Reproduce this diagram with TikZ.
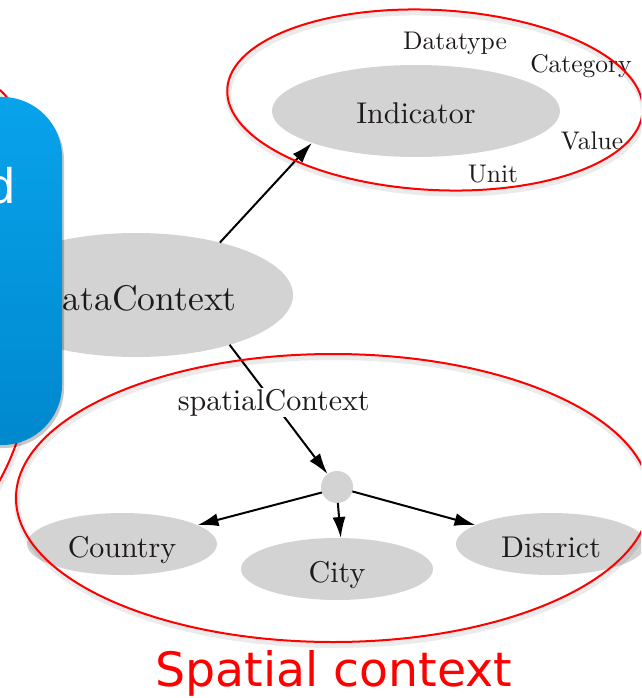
\documentclass[tikz,border=0pt]{standalone}
\usepackage{fontspec}
\newfontfamily\slidesans{DejaVu Sans}
\newfontfamily\boxsans{Liberation Sans}
% the 10pt design of Latin Modern, scaled up, for the graph labels
\newfontfamily\graphfont{lmroman10-regular.otf}
\usetikzlibrary{arrows.meta,shapes.geometric}
\definecolor{nodegray}{HTML}{D3D3D3}
\definecolor{ink}{HTML}{1F1A1A}
\definecolor{boxtop}{HTML}{08A3EB}
\definecolor{boxbottom}{HTML}{0088CE}
\definecolor{ctxred}{HTML}{FF0000}

\begin{document}
\begin{tikzpicture}[x=1pt,y=-1pt,
  concept/.style={ellipse, fill=nodegray, inner sep=0pt, outer sep=0pt, text=ink,
    font=\graphfont\fontsize{30}{36}\selectfont, text height=33.5pt, text depth=7.5pt},
  hubnode/.style={circle, fill=nodegray, minimum size=32pt, inner sep=0pt, outer sep=0pt},
  attr/.style={anchor=base, inner sep=0pt, text=ink, font=\graphfont\fontsize{25.5}{30}\selectfont},
  edgelabel/.style={fill=white, inner sep=1pt, text=ink, font=\graphfont\fontsize{30}{36}\selectfont},
  edge/.style={draw=black, line width=2pt, -{Latex[length=21pt,width=13pt]}},
  ctx/.style={draw=ctxred, line width=2pt},
  ctxshadow/.style={draw=black, opacity=0.08, line width=6pt}
]
\useasboundingbox (0,0) rectangle (641,698);
\clip (0,0) rectangle (641,698);

% concept nodes
\node[concept, minimum width=314pt, minimum height=124pt,
      font=\graphfont\fontsize{35.6}{42}\selectfont, text height=39pt, text depth=9pt]
      (dc) at (136,295) {DataContext};
\node[concept, minimum width=288pt, minimum height=92pt] (ind) at (416,111) {Indicator};
\node[hubnode] (hub) at (337,487) {};
\node[concept, minimum width=190pt, minimum height=62pt] (country) at (122,544) {Country};
\node[concept, minimum width=192pt, minimum height=62pt] (city) at (337,569) {City};
\node[concept, minimum width=190pt, minimum height=62pt] (district) at (551,544) {District};

% indicator attributes
\node[attr] (datatype) at (455,50) {Datatype};
\node[attr] (category) at (581,73) {Category};
\node[attr] (value) at (592,149) {Value};
\node[attr] (unit) at (493,182) {Unit};

% relations
\draw[edge] (dc.32) -- (ind.197);
\draw[edge] (dc.-28) -- node[edgelabel, pos=0.45] (splabel) {spatialContext} (hub.126);
\draw[edge] (hub.200) -- (country.14);
\draw[edge] (hub.273) -- (city.83);
\draw[edge] (hub.344) -- (district.166);

% context groupings with their soft shadows
\begin{scope}[shift={(1,3)}]
  \draw[ctxshadow, rotate around={-3:(435,100)}] (435,100) ellipse [x radius=208, y radius=90];
  \draw[ctxshadow] (333,498) ellipse [x radius=317, y radius=144];
  \draw[ctxshadow] (-8,86) .. controls (45,100) and (70,370) .. (-6,490);
\end{scope}
\draw[ctx, rotate around={-3:(435,100)}] (435,100) ellipse [x radius=208, y radius=90];
\draw[ctx] (333,498) ellipse [x radius=317, y radius=144];
\draw[ctx] (-8,86) .. controls (45,100) and (70,370) .. (-6,490);

% callout box in front
\fill[black, opacity=0.22, rounded corners=60pt, shift={(2,3)}] (-300,97) rectangle (62,445);
\shade[top color=boxtop, bottom color=boxbottom, rounded corners=60pt] (-300,97) rectangle (62,445);
\node[anchor=base east, inner sep=0pt, text=white, font=\boxsans\fontsize{50}{60}\selectfont]
      (boxtext) at (15.5,203) {d};

% caption
\node[anchor=base, inner sep=0pt, text=ctxred,
      font=\slidesans\fontsize{47.4}{56}\selectfont] (caption) at (334,686) {Spatial context};
\end{tikzpicture}
\end{document}
